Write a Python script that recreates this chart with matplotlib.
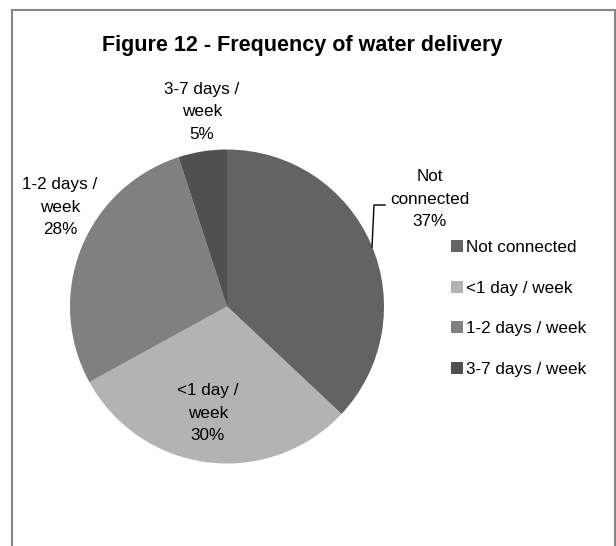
import matplotlib.pyplot as plt
from matplotlib.patches import Rectangle
from matplotlib.lines import Line2D
from matplotlib import font_manager

# data
categories = ['Not connected', '<1 day / week', '1-2 days / week', '3-7 days / week']
shares = [37, 30, 28, 5]
slice_labels = ['Not\nconnected\n37%', '<1 day /\nweek\n30%', '1-2 days /\nweek\n28%', '3-7 days /\nweek\n5%']
colors = ['#636363', '#b3b3b3', '#808080', '#505050']
title = 'Figure 12 - Frequency of water delivery'

W, H = 616, 546
names = {f.name for f in font_manager.fontManager.ttflist}
fam = ['Liberation Sans Narrow', 'DejaVu Sans'] if 'Liberation Sans Narrow' in names else ['Liberation Sans', 'DejaVu Sans']
plt.rcParams['font.family'] = fam


def px(x, y):
    return x / W, 1 - y / H


fig = plt.figure(figsize=(W / 100, H / 100), dpi=100)

# outer frame (bottom edge falls off the picture)
fig.add_artist(Rectangle(px(12, 560), (615 - 12) / W, (560 - 10) / H,
                         transform=fig.transFigure, fill=False,
                         edgecolor='#868686', lw=1.5))

fig.text(*px(302, 45), title, ha='center', va='center', fontsize=15.5, fontweight='bold')

# pie
cx, cy, r = 227, 306.5, 157
ax = fig.add_axes([(cx - r) / W, 1 - (cy + r) / H, 2 * r / W, 2 * r / H])
wedges, _ = ax.pie(shares, colors=colors, startangle=90, counterclock=False,
                   radius=1, wedgeprops=dict(linewidth=0))
ax.set_xlim(-1, 1)
ax.set_ylim(-1, 1)
ax.axis('off')

label_pos = [(430, 199), (208, 413), (60, 207), (202, 112)]
for txt, (x, y) in zip(slice_labels, label_pos):
    fig.text(*px(x, y), txt, ha='center', va='center', fontsize=12.3, linespacing=1.62)

# leader line for Not connected
lx = [px(385, 205)[0], px(374, 205)[0], px(372, 247)[0]]
ly = [px(385, 205)[1], px(374, 205)[1], px(372, 247)[1]]
fig.add_artist(Line2D(lx, ly, transform=fig.transFigure, color='black', lw=1))

fig.legend(wedges, categories, loc='upper left', bbox_to_anchor=px(451, 240),
           frameon=False, fontsize=12.3, handlelength=0.7, handleheight=0.7,
           handletextpad=0.2, labelspacing=1.5, borderpad=0, borderaxespad=0)

fig.savefig('out.png', dpi=100)
